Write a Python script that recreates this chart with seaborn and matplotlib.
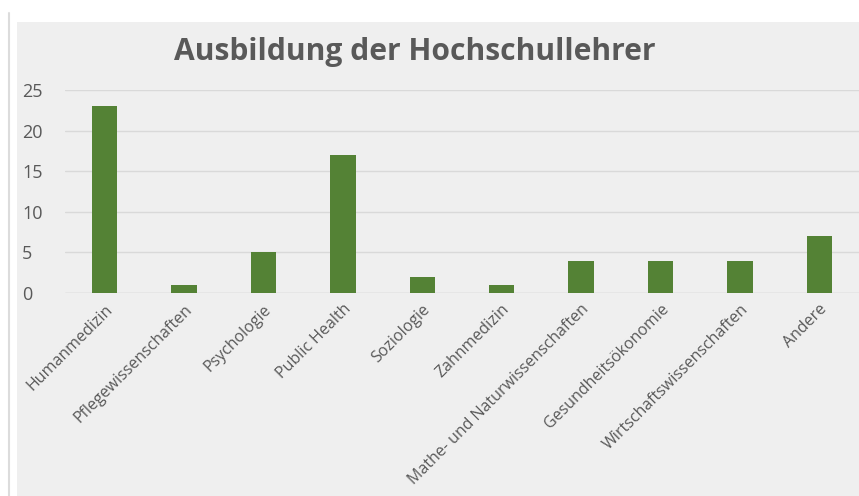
import matplotlib
matplotlib.use("Agg")
import matplotlib.pyplot as plt
import seaborn as sns
import pandas as pd
from matplotlib.patches import Rectangle
from matplotlib.lines import Line2D

# Chart data
faecher = [
    "Humanmedizin", "Pflegewissenschaften", "Psychologie", "Public Health",
    "Soziologie", "Zahnmedizin", "Mathe- und Naturwissenschaften",
    "Gesundheitsökonomie", "Wirtschaftswissenschaften", "Andere",
]
anzahl = [23, 1, 5, 17, 2, 1, 4, 4, 4, 7]
y_ticks = [0, 5, 10, 15, 20, 25]

df = pd.DataFrame({"Fach": faecher, "Anzahl": anzahl})

sns.set_theme(style="white")
plt.rcParams["font.family"] = ["Open Sans", "DejaVu Sans"]

panel = "#efefef"
text_col = "#595959"
grid_col = "#d9d9d9"

fig = plt.figure(figsize=(8.59, 4.96), dpi=100)
fig.patch.set_facecolor("white")

# gray chart panel and thin border line on the left
fig.patches.append(Rectangle((17 / 859, 0), 1, 1 - 22 / 496, transform=fig.transFigure,
                             facecolor=panel, edgecolor="none", zorder=-10))
fig.lines.append(Line2D([9 / 859, 9 / 859], [0, 1 - 13 / 496], transform=fig.transFigure,
                        color="#dcdcdc", lw=1.5))

ax = fig.add_axes([65 / 859, 1 - 293 / 496, 794 / 859, 203 / 496])
ax.set_facecolor(panel)

sns.barplot(data=df, x="Fach", y="Anzahl", color="#548235", saturation=1,
            width=0.32, linewidth=0, ax=ax, zorder=3)

ax.set_ylim(0, 25)
ax.set_yticks(y_ticks)
ax.yaxis.grid(True, color=grid_col, lw=1)
ax.set_axisbelow(True)
for s in ax.spines.values():
    s.set_visible(False)
ax.axhline(0, color=grid_col, lw=1, zorder=1)

ax.set_xlabel("")
ax.set_ylabel("")
ax.tick_params(axis="y", length=0, labelsize=13, labelcolor=text_col, pad=31)
ax.tick_params(axis="x", length=0, labelsize=11.5, labelcolor=text_col, pad=6)
for lbl in ax.get_yticklabels():
    lbl.set_horizontalalignment("left")
plt.setp(ax.get_xticklabels(), rotation=45, ha="right", rotation_mode="anchor")

fig.text(415 / 859, 1 - 52 / 496, "Ausbildung der Hochschullehrer", ha="center", va="center",
         fontsize=21.6, fontweight="bold", color=text_col)

fig.savefig("out.png", dpi=100)
